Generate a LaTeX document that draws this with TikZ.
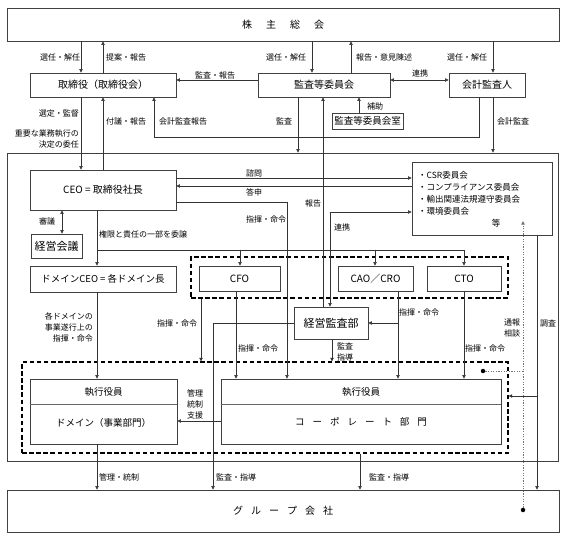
\documentclass[tikz,border=0pt]{standalone}
\usepackage{fontspec}
\setmainfont{Noto Sans CJK JP}
\usetikzlibrary{arrows.meta}

\begin{document}
\begin{tikzpicture}[x=1pt,y=-1pt,
  >={Triangle[length=3.6pt,width=3.4pt]},
  box/.style={draw=black!75,line width=0.7pt,inner sep=0pt,font=\fontsize{10}{12}\selectfont},
  dbox/.style={draw=black,line width=1.1pt,dash pattern=on 4.5pt off 2.6pt,inner sep=0pt},
  lbl/.style={inner sep=0pt,font=\fontsize{8}{11}\selectfont},
  conn/.style={draw=black!80,line width=0.6pt},
  dotline/.style={draw=black!55,line width=0.8pt,dash pattern=on 1.2pt off 1.4pt},
  dot/.style={circle,fill=black,inner sep=0pt,minimum size=4.5pt}]

    \useasboundingbox (0,0) rectangle (567,534);

    %The shareholders and the board
    \node[box,minimum width=552,minimum height=33] (soukai) at (283,24.5) {株\hspace{14pt}主\hspace{14pt}総\hspace{14pt}会};
    \node[box,minimum width=146,minimum height=24] (torishimari) at (103,85) {取締役（取締役会）};
    \node[box,minimum width=132,minimum height=24] (kansa) at (324,85) {監査等委員会};
    \node[box,minimum width=76,minimum height=24] (kaikei) at (487,85) {会計監査人};
    \node[box,minimum width=71,minimum height=16,font=\fontsize{9.5}{11}\selectfont] (shitsu) at (367.5,121) {監査等委員会室};

    %The frame of the executive side
    \node[box,minimum width=551,minimum height=308] (frame) at (282.5,307) {};
    \node[box,minimum width=146,minimum height=40] (ceo) at (103,190) {CEO = 取締役社長};
    \node[box,minimum width=140,minimum height=73] (csr) at (482,198.5) {};
    \node[lbl,anchor=west,align=left,font=\fontsize{8.5}{12}\selectfont] (csrtext) at (418,193) {・CSR委員会\\・コンプライアンス委員会\\・輸出関連法規遵守委員会\\・環境委員会};
    \node[lbl,font=\fontsize{8.5}{12}\selectfont] (tou) at (496,223) {等};
    \node[box,minimum width=51,minimum height=24,font=\fontsize{11}{13}\selectfont] (keiei) at (56.5,246) {経営会議};
    \node[box,minimum width=146,minimum height=26,font=\fontsize{9.5}{11}\selectfont] (dceo) at (103,279) {ドメインCEO = 各ドメイン長};

    \node[dbox,minimum width=317,minimum height=41] (dash1) at (349.5,277.5) {};
    \node[box,minimum width=81,minimum height=25] (cfo) at (239.5,278.5) {CFO};
    \node[box,minimum width=75,minimum height=25] (cao) at (375.5,278.5) {CAO／CRO};
    \node[box,minimum width=74,minimum height=25] (cto) at (464,278.5) {CTO};
    \node[box,minimum width=74,minimum height=32,font=\fontsize{11}{13}\selectfont] (kansabu) at (331,323) {経営監査部};

    \node[dbox,minimum width=486,minimum height=91] (dash2) at (265,407.5) {};
    \node[box,minimum width=147,minimum height=65] (domain) at (103.5,411.5) {};
    \node[box,minimum width=280,minimum height=65] (corp) at (361,411.5) {};
    \draw[draw=black!60,line width=0.5pt] (domain.west |- 0,404) -- (domain.east |- 0,404);
    \draw[draw=black!60,line width=0.5pt] (corp.west |- 0,404) -- (corp.east |- 0,404);
    \node[lbl,font=\fontsize{9.5}{11}\selectfont] (domaintitle) at (103.5,392) {執行役員};
    \node[lbl,font=\fontsize{9.5}{11}\selectfont] (domainname) at (103.5,423) {ドメイン（事業部門）};
    \node[lbl,font=\fontsize{9.5}{11}\selectfont] (corptitle) at (361,392) {執行役員};
    \node[lbl,font=\fontsize{9.5}{11}\selectfont] (corpname) at (361,422) {コ\hspace{8pt}ー\hspace{8pt}ポ\hspace{8pt}レ\hspace{8pt}ー\hspace{8pt}ト\hspace{8pt}部\hspace{8pt}門};

    %The group companies
    \node[box,minimum width=552,minimum height=42] (group) at (283,511) {グ\hspace{8pt}ル\hspace{8pt}ー\hspace{8pt}プ\hspace{8pt}会\hspace{8pt}社};

    %Connectors at the top
    \draw[conn,->] (81,0 |- soukai.south) -- (81,0 |- torishimari.north);
    \draw[conn,->] (103,0 |- torishimari.north) -- (103,0 |- soukai.south);
    \draw[conn,->] (kansa.west |- 0,80) -- (torishimari.east |- 0,80);
    \draw[conn,->] (312,0 |- soukai.south) -- (312,0 |- kansa.north);
    \draw[conn,->] (351,0 |- kansa.north) -- (351,0 |- soukai.south);
    \draw[conn,<->] (kansa.east |- 0,80) -- (kaikei.west |- 0,80);
    \draw[conn,->] (493,0 |- soukai.south) -- (493,0 |- kaikei.north);
    \draw[conn,->] (359,0 |- shitsu.north) -- (359,0 |- kansa.south);
    \draw[conn,->] (479,0 |- kaikei.south) -- (479,137) -- (154,137) -- (154,0 |- torishimari.south);
    \draw[conn,->] (493,0 |- kaikei.south) -- (493,0 |- frame.north);
    \draw[conn,->] (298,0 |- kansa.south) -- (298,0 |- frame.north);
    \draw[conn,->] (323,0 |- kansabu.north) -- (323,0 |- kansa.south);
    \draw[conn,->] (81,0 |- torishimari.south) -- (81,0 |- ceo.north);
    \draw[conn,->] (103,0 |- ceo.north) -- (103,0 |- torishimari.south);

    \node[lbl] (l1) at (60,57) {選任・解任};
    \node[lbl] (l2) at (126,57) {提案・報告};
    \node[lbl] (l3) at (215,75) {監査・報告};
    \node[lbl] (l4) at (286,57) {選任・解任};
    \node[lbl] (l5) at (384,57) {報告・意見陳述};
    \node[lbl] (l6) at (467,57) {選任・解任};
    \node[lbl] (l7) at (420,73) {連携};
    \node[lbl] (l8) at (375,106) {補助};
    \node[lbl] (l9) at (183,121) {会計監査報告};
    \node[lbl] (l10) at (284,121) {監査};
    \node[lbl] (l11) at (513,121) {会計監査};
    \node[lbl] (l12) at (126,121) {付議・報告};
    \node[lbl,anchor=east] (l13) at (79,113) {選定・監督};
    \node[lbl,anchor=east,align=right] (l14) at (79,138.5) {重要な業務執行の\\決定の委任};

    %Connectors inside the frame
    \draw[conn,->] (ceo.east |- 0,178) -- (csr.west |- 0,178);
    \draw[conn,->] (csr.west |- 0,186) -- (ceo.east |- 0,186);
    \draw[conn,->] (ceo.east |- 0,202) -- (287,202) -- (287,0 |- corp.north);
    \draw[conn,<->] (330,0 |- kansabu.north) -- (330,212) -- (csr.west |- 0,212);
    \draw[conn,<->] (62,0 |- ceo.south) -- (62,0 |- keiei.north);
    \draw[conn,->] (97,0 |- ceo.south) -- (97,0 |- dceo.north);
    \draw[conn] (97,250) -- (464,250);
    \draw[conn,->] (240,250) -- (240,0 |- cfo.north);
    \draw[conn,->] (375,250) -- (375,0 |- cao.north);
    \draw[conn,->] (464,250) -- (464,0 |- cto.north);
    \draw[conn,->] (236,0 |- cfo.south) -- (236,0 |- corp.north);
    \draw[conn,->] (398,0 |- cao.south) -- (398,0 |- corp.north);
    \draw[conn,->] (398,0 |- kansabu.east) -- (kansabu.east);
    \draw[conn,->] (464,0 |- cto.south) -- (464,0 |- corp.north);
    \draw[conn,->] (201,0 |- dash1.south) -- (201,0 |- dash2.north);
    \draw[conn,->] (kansabu.west) -- (213,0 |- kansabu.west) -- (213,0 |- group.north);
    \draw[conn,->] (332,0 |- kansabu.south) -- (332,0 |- dash2.north);
    \draw[conn,->] (97,0 |- dceo.south) -- (97,0 |- domain.north);
    \draw[conn,->] (corp.west |- 0,421) -- (domain.east |- 0,421);
    \draw[conn,->] (537,0 |- csr.south) -- (537,0 |- group.north);
    \draw[conn,->] (537,396) -- (dash2.east |- 0,396);

    %Whistleblowing line
    \coordinate (tsuho) at (523,221);
    \node[dot] (gdot) at (523,510) {};
    \node[dot] (edot) at (483,371) {};
    \draw[dotline,->] (gdot) -- (tsuho);
    \draw[dotline] (523,371) -- (edot);

    \node[lbl] (l15) at (254,173) {諮問};
    \node[lbl] (l16) at (254,192) {答申};
    \node[lbl] (l17) at (266,219) {指揮・命令};
    \node[lbl] (l18) at (313,203) {報告};
    \node[lbl] (l19) at (342,227) {連携};
    \node[lbl] (l20) at (47,221) {審議};
    \node[lbl,anchor=west] (l21) at (99,234) {権限と責任の一部を委譲};
    \node[lbl,anchor=east,align=right] (l22) at (93,327) {各ドメインの\\事業遂行上の\\指揮・命令};
    \node[lbl] (l23) at (177,323) {指揮・命令};
    \node[lbl] (l24) at (258,348) {指揮・命令};
    \node[lbl] (l25) at (419,312) {指揮・命令};
    \node[lbl] (l26) at (485,348) {指揮・命令};
    \node[lbl,align=center] (l27) at (345,351.5) {監査\\指導};
    \node[lbl,align=center] (l28) at (195,404) {管理\\統制\\支援};
    \node[lbl,align=center] (l29) at (512,327.5) {通報\\相談};
    \node[lbl] (l30) at (548,323) {調査};

    %Connectors to the group companies
    \draw[conn,->] (97,0 |- domain.south) -- (97,0 |- group.north);
    \draw[conn,->] (360,0 |- dash2.south) -- (360,0 |- group.north);
    \node[lbl,anchor=west] (l31) at (99,477) {管理・統制};
    \node[lbl,anchor=west] (l32) at (216,477) {監査・指導};
    \node[lbl,anchor=west] (l33) at (369,477) {監査・指導};

\end{tikzpicture}
\end{document}
